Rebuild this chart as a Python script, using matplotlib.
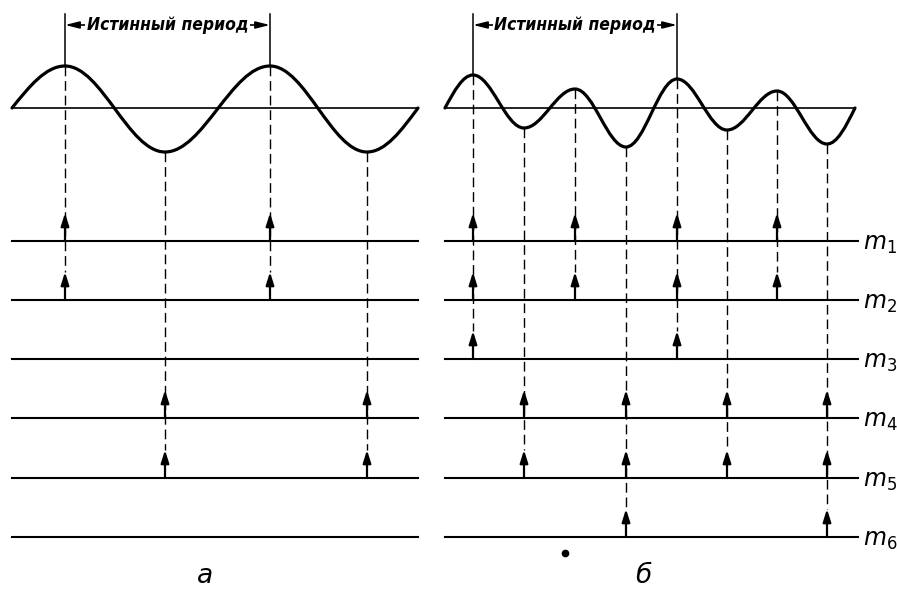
import matplotlib
matplotlib.use("Agg")
import matplotlib.pyplot as plt
from matplotlib.path import Path
from matplotlib.patches import PathPatch

# ── data (pixel units, y grows downward) ─────────────────────────────────────
# waveform "а": start, extrema, end
wave_a_x = [12, 65, 165, 270, 367, 418]
wave_a_y = [108, 66, 152, 66, 152, 108]
# waveform "б": start, extrema, end
wave_b_x = [445, 473, 524, 575, 626, 677, 727, 777, 827, 855]
wave_b_y = [108, 75, 128, 89, 147, 79, 130, 91, 144, 108]
baseline_y = 108

levels_y = [241, 300, 359, 418, 478, 537]
level_labels = ["$m_1$", "$m_2$", "$m_3$", "$m_4$", "$m_5$", "$m_6$"]

# extremum index -> levels that get an arrow
arrows_a = {1: [0, 1], 2: [3, 4], 3: [0, 1], 4: [3, 4]}
arrows_b = {1: [0, 1, 2], 2: [3, 4], 3: [0, 1], 4: [3, 4, 5],
            5: [0, 1, 2], 6: [3, 4], 7: [0, 1], 8: [3, 4, 5]}

period_a = (65, 270)
period_b = (473, 677)
period_text = "Истинный период"
panel_labels = ["а", "б"]

# ── helpers ─────────────────────────────────────────────────────────────────
K_HALF = 0.3642           # bezier handle for a half cosine
QX, QY1, QX2 = 0.3265, 0.5128, 0.6382   # quarter sine handles


def quarter(z, e):
    # zero crossing z -> extremum e
    dx, dy = e[0] - z[0], e[1] - z[1]
    return [(z[0] + QX * dx, z[1] + QY1 * dy), (z[0] + QX2 * dx, e[1]), e]


def wave_path(xs, ys):
    pts = list(zip(xs, ys))
    verts = [pts[0]]
    codes = [Path.MOVETO]
    verts += quarter(pts[0], pts[1])
    codes += [Path.CURVE4] * 3
    for p0, p1 in zip(pts[1:-2], pts[2:-1]):
        dx = p1[0] - p0[0]
        verts += [(p0[0] + K_HALF * dx, p0[1]), (p1[0] - K_HALF * dx, p1[1]), p1]
        codes += [Path.CURVE4] * 3
    c1, c2, _ = quarter(pts[-1], pts[-2])
    verts += [c2, c1, pts[-1]]
    codes += [Path.CURVE4] * 3
    return Path(verts, codes)


ARROW_LEN = 28


def draw_panel(ax, xs, ys, arrows, period, x0, x1, label, label_x, with_m):
    ax.plot([xs[0], xs[-1]], [baseline_y, baseline_y], color="black", lw=1.2)
    ax.add_patch(PathPatch(wave_path(xs, ys), fill=False, lw=2.3,
                           edgecolor="black", capstyle="round"))
    for y in levels_y:
        ax.plot([x0, x1], [y, y], color="black", lw=1.5)
    for i, lv in arrows.items():
        xe, ye = xs[i], ys[i]
        bottom = levels_y[max(lv)] - ARROW_LEN
        ax.plot([xe, xe], [ye, bottom], color="black", lw=1.0,
                linestyle=(0, (7, 3.5)))
        for l in lv:
            ax.annotate("", xy=(xe, levels_y[l] - ARROW_LEN), xytext=(xe, levels_y[l]),
                        arrowprops=dict(arrowstyle="-|>,head_length=0.38,head_width=0.12",
                                        lw=1.6, color="black", shrinkA=0, shrinkB=0,
                                        mutation_scale=20))
    # true period bracket
    pa, pb = period
    for xp in (pa, pb):
        yp = ys[xs.index(xp)]
        ax.plot([xp, xp], [14, yp], color="black", lw=1.1)
    ax.annotate("", xy=(pa, 25), xytext=(pb, 25),
                arrowprops=dict(arrowstyle="<|-|>,head_length=0.6,head_width=0.15",
                                lw=1.2, color="black", shrinkA=0, shrinkB=0,
                                mutation_scale=14))
    ax.text((pa + pb) / 2, 25, period_text, ha="center", va="center",
            fontsize=12.5, fontstyle="italic", fontweight="bold",
            fontstretch="condensed", family="DejaVu Sans",
            bbox=dict(facecolor="white", edgecolor="none", pad=1.0))
    if with_m:
        for y, lab in zip(levels_y, level_labels):
            ax.text(x1 + 5, y + 3, lab, ha="left", va="center", fontsize=17)
    ax.text(label_x, 576, label, ha="center", va="center",
            fontsize=19, fontstyle="italic")


fig = plt.figure(figsize=(8.97, 5.90), dpi=100)
ax = fig.add_axes([0, 0, 1, 1])
ax.set_xlim(0, 897)
ax.set_ylim(590, 0)
ax.axis("off")

draw_panel(ax, wave_a_x, wave_a_y, arrows_a, period_a, 12, 418,
           panel_labels[0], 205, False)
draw_panel(ax, wave_b_x, wave_b_y, arrows_b, period_b, 445, 858,
           panel_labels[1], 643, True)

# stray print dot under panel б
ax.plot([565], [553], "o", color="black", markersize=4.5)

fig.savefig("out.png", dpi=100)
